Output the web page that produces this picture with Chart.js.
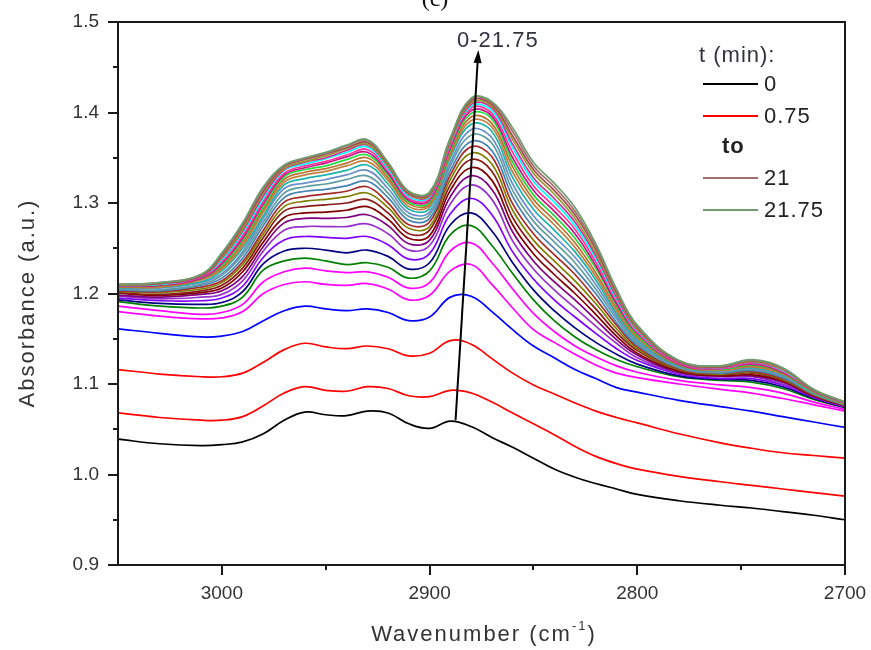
<!DOCTYPE html>
<html>
<head>
<meta charset="utf-8">
<title>Absorbance vs wavenumber</title>
<script src="https://cdn.jsdelivr.net/npm/chart.js@4.4.1/dist/chart.umd.min.js"></script>
<style>
  html, body { margin: 0; padding: 0; background: #fff; }
  #wrap { width: 871px; height: 650px; }
</style>
</head>
<body>
<div id="wrap"><canvas id="spectra" width="871" height="650"></canvas></div>
<script>
// Spectra. Shared x values (cm-1), one array per time step.
const wavenumbers = [3050, 3030, 3010, 3000, 2990, 2980, 2970, 2960, 2950, 2940, 2930, 2920, 2910, 2900,
  2890, 2880, 2870, 2860, 2850, 2840, 2830, 2820, 2810, 2800, 2780, 2760, 2745, 2730, 2715, 2700];

const times = [0, 0.75, 1.5, 2.25, 3, 3.75, 4.5, 5.25, 6, 6.75, 7.5, 8.25, 9, 9.75, 10.5, 11.25,
  12, 12.75, 13.5, 14.25, 15, 15.75, 16.5, 17.25, 18, 18.75, 19.5, 20.25, 21, 21.75];

const colors = ["#000000", "#ff0000", "#ff0000", "#0000ff", "#ff00ff", "#ff00ff", "#008000", "#000080",
  "#8000ff", "#9932cc", "#800080", "#800000", "#8b1a1a", "#808000", "#a52a2a", "#4682b4", "#5f9ea0",
  "#6a8fc8", "#20b2aa", "#c08040", "#b87333", "#22dd44", "#c71585", "#ff3399", "#00ffff", "#cc3399",
  "#999933", "#a05050", "#a07070", "#6e9e6e"];

const s00 = [1.039, 1.034, 1.032, 1.033, 1.036, 1.045, 1.060, 1.069, 1.066, 1.065, 1.070, 1.068, 1.056, 1.051, 1.059, 1.053, 1.041, 1.030, 1.018, 1.006, 0.997, 0.990, 0.984, 0.978, 0.971, 0.966, 0.963, 0.959, 0.955, 0.950];
const s01 = [1.068, 1.063, 1.060, 1.060, 1.064, 1.076, 1.090, 1.097, 1.093, 1.092, 1.097, 1.095, 1.087, 1.086, 1.093, 1.090, 1.080, 1.068, 1.056, 1.044, 1.031, 1.020, 1.012, 1.006, 0.998, 0.992, 0.988, 0.984, 0.980, 0.976];
const s02 = [1.116, 1.111, 1.108, 1.108, 1.112, 1.124, 1.138, 1.145, 1.141, 1.139, 1.142, 1.139, 1.131, 1.134, 1.148, 1.144, 1.128, 1.112, 1.099, 1.089, 1.079, 1.070, 1.063, 1.057, 1.045, 1.035, 1.029, 1.024, 1.021, 1.018];
const s03 = [1.161, 1.156, 1.152, 1.153, 1.158, 1.170, 1.181, 1.186, 1.183, 1.181, 1.183, 1.179, 1.170, 1.174, 1.196, 1.197, 1.180, 1.160, 1.142, 1.129, 1.116, 1.106, 1.096, 1.091, 1.082, 1.075, 1.070, 1.064, 1.058, 1.052];
const s04 = [1.180, 1.175, 1.172, 1.173, 1.180, 1.200, 1.210, 1.213, 1.210, 1.209, 1.211, 1.205, 1.193, 1.198, 1.225, 1.232, 1.210, 1.184, 1.160, 1.146, 1.133, 1.121, 1.112, 1.107, 1.100, 1.094, 1.090, 1.084, 1.077, 1.070];
const s05 = [1.186, 1.181, 1.177, 1.179, 1.188, 1.213, 1.224, 1.228, 1.225, 1.223, 1.224, 1.218, 1.206, 1.212, 1.247, 1.256, 1.234, 1.205, 1.178, 1.158, 1.142, 1.130, 1.120, 1.113, 1.104, 1.099, 1.096, 1.090, 1.080, 1.072];
const s06 = [1.191, 1.186, 1.184, 1.186, 1.196, 1.226, 1.236, 1.239, 1.236, 1.232, 1.234, 1.229, 1.217, 1.225, 1.265, 1.275, 1.253, 1.222, 1.193, 1.170, 1.152, 1.138, 1.127, 1.119, 1.108, 1.104, 1.102, 1.095, 1.083, 1.074];
const s07 = [1.193, 1.189, 1.188, 1.190, 1.202, 1.233, 1.247, 1.250, 1.248, 1.245, 1.248, 1.241, 1.227, 1.234, 1.276, 1.289, 1.269, 1.234, 1.204, 1.181, 1.162, 1.146, 1.133, 1.122, 1.109, 1.105, 1.104, 1.097, 1.084, 1.074];
const s08 = [1.195, 1.192, 1.192, 1.195, 1.208, 1.240, 1.259, 1.263, 1.262, 1.261, 1.263, 1.254, 1.238, 1.244, 1.288, 1.305, 1.287, 1.246, 1.216, 1.193, 1.174, 1.156, 1.139, 1.126, 1.111, 1.106, 1.106, 1.099, 1.085, 1.075];
const s09 = [1.197, 1.194, 1.196, 1.199, 1.214, 1.247, 1.270, 1.274, 1.274, 1.274, 1.277, 1.266, 1.248, 1.253, 1.299, 1.320, 1.304, 1.258, 1.227, 1.204, 1.184, 1.164, 1.145, 1.129, 1.112, 1.108, 1.108, 1.100, 1.086, 1.075];
const s10 = [1.198, 1.196, 1.199, 1.203, 1.219, 1.252, 1.278, 1.283, 1.283, 1.284, 1.287, 1.275, 1.255, 1.259, 1.307, 1.330, 1.315, 1.268, 1.236, 1.213, 1.193, 1.171, 1.149, 1.132, 1.113, 1.109, 1.109, 1.102, 1.086, 1.076];
const s11 = [1.200, 1.198, 1.201, 1.206, 1.224, 1.257, 1.284, 1.289, 1.290, 1.292, 1.296, 1.282, 1.261, 1.264, 1.314, 1.339, 1.325, 1.276, 1.244, 1.221, 1.200, 1.177, 1.153, 1.134, 1.114, 1.109, 1.110, 1.103, 1.087, 1.076];
const s12 = [1.201, 1.199, 1.203, 1.209, 1.228, 1.262, 1.291, 1.296, 1.298, 1.300, 1.304, 1.289, 1.266, 1.270, 1.320, 1.348, 1.335, 1.284, 1.252, 1.229, 1.207, 1.183, 1.157, 1.137, 1.115, 1.110, 1.112, 1.104, 1.087, 1.076];
const s13 = [1.202, 1.201, 1.205, 1.212, 1.232, 1.266, 1.296, 1.302, 1.304, 1.307, 1.311, 1.295, 1.272, 1.274, 1.326, 1.355, 1.343, 1.292, 1.259, 1.236, 1.214, 1.189, 1.161, 1.139, 1.116, 1.111, 1.113, 1.105, 1.088, 1.077];
const s14 = [1.203, 1.202, 1.207, 1.214, 1.235, 1.270, 1.301, 1.307, 1.310, 1.313, 1.318, 1.300, 1.276, 1.279, 1.331, 1.362, 1.351, 1.299, 1.266, 1.243, 1.221, 1.194, 1.165, 1.141, 1.117, 1.112, 1.114, 1.106, 1.088, 1.077];
const s15 = [1.204, 1.203, 1.209, 1.217, 1.239, 1.275, 1.306, 1.313, 1.315, 1.319, 1.324, 1.306, 1.281, 1.283, 1.336, 1.368, 1.358, 1.307, 1.273, 1.250, 1.227, 1.200, 1.168, 1.143, 1.118, 1.112, 1.115, 1.107, 1.089, 1.077];
const s16 = [1.205, 1.204, 1.210, 1.220, 1.243, 1.279, 1.311, 1.318, 1.321, 1.326, 1.330, 1.311, 1.285, 1.287, 1.341, 1.375, 1.366, 1.314, 1.280, 1.257, 1.234, 1.205, 1.172, 1.145, 1.118, 1.113, 1.116, 1.108, 1.089, 1.077];
const s17 = [1.205, 1.206, 1.212, 1.222, 1.246, 1.283, 1.316, 1.322, 1.326, 1.331, 1.336, 1.316, 1.289, 1.290, 1.345, 1.381, 1.372, 1.321, 1.286, 1.263, 1.240, 1.210, 1.175, 1.147, 1.119, 1.114, 1.117, 1.109, 1.090, 1.078];
const s18 = [1.206, 1.207, 1.213, 1.225, 1.250, 1.286, 1.320, 1.327, 1.331, 1.336, 1.342, 1.321, 1.293, 1.294, 1.350, 1.387, 1.379, 1.328, 1.293, 1.270, 1.246, 1.215, 1.178, 1.149, 1.120, 1.115, 1.118, 1.110, 1.090, 1.078];
const s19 = [1.207, 1.207, 1.215, 1.227, 1.253, 1.290, 1.323, 1.331, 1.335, 1.341, 1.346, 1.325, 1.296, 1.297, 1.353, 1.391, 1.384, 1.334, 1.299, 1.276, 1.251, 1.219, 1.181, 1.151, 1.121, 1.115, 1.119, 1.111, 1.091, 1.078];
const s20 = [1.207, 1.208, 1.216, 1.229, 1.256, 1.293, 1.326, 1.334, 1.338, 1.344, 1.350, 1.328, 1.299, 1.299, 1.356, 1.395, 1.388, 1.340, 1.304, 1.281, 1.256, 1.223, 1.184, 1.153, 1.121, 1.116, 1.120, 1.112, 1.091, 1.078];
const s21 = [1.208, 1.209, 1.217, 1.231, 1.259, 1.296, 1.329, 1.337, 1.341, 1.348, 1.353, 1.331, 1.301, 1.301, 1.359, 1.399, 1.393, 1.345, 1.309, 1.286, 1.261, 1.228, 1.187, 1.154, 1.122, 1.116, 1.121, 1.113, 1.091, 1.079];
const s22 = [1.208, 1.209, 1.217, 1.233, 1.261, 1.299, 1.331, 1.339, 1.344, 1.351, 1.356, 1.333, 1.303, 1.303, 1.361, 1.402, 1.396, 1.350, 1.314, 1.291, 1.266, 1.231, 1.189, 1.156, 1.122, 1.117, 1.122, 1.113, 1.092, 1.079];
const s23 = [1.209, 1.210, 1.218, 1.235, 1.264, 1.302, 1.333, 1.341, 1.346, 1.353, 1.359, 1.336, 1.305, 1.305, 1.363, 1.405, 1.399, 1.356, 1.319, 1.296, 1.271, 1.235, 1.192, 1.157, 1.123, 1.117, 1.123, 1.114, 1.092, 1.079];
const s24 = [1.209, 1.210, 1.219, 1.237, 1.267, 1.305, 1.336, 1.343, 1.349, 1.356, 1.362, 1.338, 1.307, 1.307, 1.366, 1.407, 1.402, 1.361, 1.324, 1.301, 1.275, 1.239, 1.194, 1.159, 1.124, 1.118, 1.124, 1.115, 1.093, 1.079];
const s25 = [1.209, 1.211, 1.219, 1.239, 1.269, 1.308, 1.337, 1.345, 1.350, 1.358, 1.364, 1.340, 1.309, 1.308, 1.367, 1.409, 1.405, 1.365, 1.328, 1.305, 1.279, 1.242, 1.196, 1.160, 1.124, 1.118, 1.124, 1.116, 1.093, 1.079];
const s26 = [1.209, 1.211, 1.220, 1.240, 1.271, 1.311, 1.338, 1.346, 1.352, 1.360, 1.365, 1.341, 1.310, 1.309, 1.368, 1.411, 1.407, 1.370, 1.333, 1.310, 1.283, 1.245, 1.199, 1.161, 1.125, 1.119, 1.125, 1.116, 1.093, 1.080];
const s27 = [1.210, 1.211, 1.220, 1.242, 1.274, 1.313, 1.340, 1.348, 1.354, 1.361, 1.367, 1.343, 1.311, 1.310, 1.370, 1.413, 1.409, 1.374, 1.337, 1.314, 1.287, 1.249, 1.201, 1.163, 1.125, 1.119, 1.126, 1.117, 1.093, 1.080];
const s28 = [1.210, 1.212, 1.221, 1.244, 1.276, 1.316, 1.341, 1.349, 1.355, 1.363, 1.369, 1.344, 1.312, 1.311, 1.371, 1.415, 1.411, 1.379, 1.341, 1.318, 1.291, 1.252, 1.203, 1.164, 1.126, 1.120, 1.126, 1.117, 1.094, 1.080];
const s29 = [1.210, 1.212, 1.221, 1.245, 1.278, 1.318, 1.342, 1.350, 1.356, 1.364, 1.370, 1.345, 1.313, 1.312, 1.372, 1.416, 1.412, 1.383, 1.345, 1.322, 1.295, 1.255, 1.205, 1.165, 1.126, 1.120, 1.127, 1.118, 1.094, 1.080];

const spectra = [s00, s01, s02, s03, s04, s05, s06, s07, s08, s09, s10, s11, s12, s13, s14,
  s15, s16, s17, s18, s19, s20, s21, s22, s23, s24, s25, s26, s27, s28, s29];

// axis ranges + arrow (wavenumber, absorbance) + which times go in the legend
const X_MIN = 2700, X_MAX = 3050;
const Y_MIN = 0.9, Y_MAX = 1.5;
const arrowFrom = [2887.5, 1.060];
const arrowTo = [2876.5, 1.469];
const arrowLabel = "0-21.75";
const legendRows = [0, 1, "to", 28, 29];

const SANS = '"Liberation Sans", Arial, sans-serif';

function seg(ctx, x1, y1, x2, y2) {
  ctx.beginPath(); ctx.moveTo(x1, y1); ctx.lineTo(x2, y2); ctx.stroke();
}

// frame, tick marks, axis titles, legend, arrow – things Chart.js can't do out of the box
const decor = {
  id: "decor",
  afterDraw(chart) {
    const { ctx, chartArea: a, scales: { x, y } } = chart;
    ctx.save();
    ctx.strokeStyle = "#1a1a1a";
    ctx.lineWidth = 2;
    ctx.strokeRect(a.left, a.top, a.right - a.left, a.bottom - a.top);

    x.ticks.forEach((t) => {
      if (t.value >= X_MAX) return;
      const px = Math.round(x.getPixelForValue(t.value));
      seg(ctx, px, a.bottom, px, a.bottom + (t.value % 100 === 0 ? 10 : 5));
    });
    y.ticks.forEach((t) => {
      const py = Math.round(y.getPixelForValue(t.value));
      const major = Math.round(t.value * 100) % 10 === 0;
      seg(ctx, a.left - (major ? 10 : 5), py, a.left, py);
    });

    // axis titles
    ctx.fillStyle = "#333";
    ctx.letterSpacing = "2px";
    ctx.font = `22px ${SANS}`;
    ctx.textBaseline = "alphabetic";
    ctx.save();
    ctx.translate(34, 303);
    ctx.rotate(-Math.PI / 2);
    ctx.textAlign = "center";
    ctx.fillText("Absorbance (a.u.)", 0, 0);
    ctx.restore();

    const t1 = "Wavenumber (cm", sup = "-1", t2 = ")";
    ctx.font = `22px ${SANS}`;
    const w1 = ctx.measureText(t1).width, w2 = ctx.measureText(t2).width;
    ctx.font = `13px ${SANS}`;
    const ws = ctx.measureText(sup).width;
    let tx = 484 - (w1 + ws + w2) / 2;
    ctx.textAlign = "left";
    ctx.font = `22px ${SANS}`;
    ctx.fillText(t1, tx, 641);
    ctx.font = `13px ${SANS}`;
    ctx.fillText(sup, tx + w1, 630);
    ctx.font = `22px ${SANS}`;
    ctx.fillText(t2, tx + w1 + ws, 641);

    // panel label, mostly cut off at the top edge
    ctx.letterSpacing = "0px";
    ctx.font = `24px "Liberation Serif", serif`;
    ctx.textAlign = "center";
    ctx.fillStyle = "#111";
    ctx.fillText("(c)", 435, 6);

    // legend
    ctx.letterSpacing = "1px";
    ctx.font = `22px ${SANS}`;
    ctx.textAlign = "left";
    ctx.textBaseline = "middle";
    ctx.fillStyle = "#333340";
    ctx.fillText("t (min):", 699, 56);
    const rowY = [84, 116, 147, 178, 210];
    legendRows.forEach((r, i) => {
      if (r === "to") {
        ctx.font = `bold 22px ${SANS}`;
        ctx.fillStyle = "#222";
        ctx.fillText("to", 722, rowY[i]);
        ctx.font = `22px ${SANS}`;
        return;
      }
      ctx.strokeStyle = colors[r];
      ctx.lineWidth = 2;
      seg(ctx, 703, rowY[i], 758, rowY[i]);
      ctx.fillStyle = "#222";
      ctx.fillText(String(times[r]), 764, rowY[i] + 1);
    });

    // arrow across the peaks
    const x0 = x.getPixelForValue(arrowFrom[0]), y0 = y.getPixelForValue(arrowFrom[1]);
    const x1 = x.getPixelForValue(arrowTo[0]), y1 = y.getPixelForValue(arrowTo[1]);
    const ang = Math.atan2(y1 - y0, x1 - x0), head = 13, hw = 4;
    const bx = x1 - head * Math.cos(ang), by = y1 - head * Math.sin(ang);
    ctx.strokeStyle = "#000";
    ctx.fillStyle = "#000";
    ctx.lineWidth = 2;
    seg(ctx, x0, y0, bx, by);
    ctx.beginPath();
    ctx.moveTo(x1, y1);
    ctx.lineTo(bx + hw * Math.sin(ang), by - hw * Math.cos(ang));
    ctx.lineTo(bx - hw * Math.sin(ang), by + hw * Math.cos(ang));
    ctx.closePath();
    ctx.fill();
    ctx.fillStyle = "#333340";
    ctx.textBaseline = "alphabetic";
    ctx.textAlign = "left";
    ctx.fillText(arrowLabel, 457, 47);
    ctx.restore();
  },
};

const datasets = spectra.map((ys, i) => ({
  label: `${times[i]}`,
  data: ys.map((v, j) => ({ x: wavenumbers[j], y: v })),
  borderColor: colors[i],
  borderWidth: 1.7,
  pointRadius: 0,
  tension: 0.4,
  order: spectra.length - i,
}));

const tickFont = { family: SANS, size: 19 };

new Chart(document.getElementById("spectra"), {
  type: "line",
  data: { datasets },
  options: {
    responsive: false,
    animation: false,
    devicePixelRatio: 1,
    layout: { padding: { top: 22, right: 26, left: 0, bottom: 0 } },
    plugins: { legend: { display: false }, tooltip: { enabled: false } },
    scales: {
      x: {
        type: "linear", reverse: true, min: X_MIN, max: X_MAX,
        grid: { display: false, drawTicks: false }, border: { display: false },
        ticks: {
          stepSize: 50, autoSkip: false, maxRotation: 0, padding: 17, color: "#333", font: tickFont,
          callback: (v) => (v % 100 === 0 && v < X_MAX ? String(v) : ""),
        },
        // fixed box so the plot area lands where it is in the figure
        afterFit: (s) => { s.height = 85; s.paddingLeft = 0; s.paddingRight = 0; },
      },
      y: {
        type: "linear", min: Y_MIN, max: Y_MAX,
        grid: { display: false, drawTicks: false }, border: { display: false },
        ticks: {
          stepSize: 0.05, autoSkip: false, padding: 19, color: "#333", font: tickFont,
          callback: (v) => {
            const r = Math.round(v * 100);
            return r % 10 === 0 ? (r / 100).toFixed(1) : "";
          },
        },
        afterFit: (s) => { s.width = 118; s.paddingTop = 0; s.paddingBottom = 0; },
      },
    },
  },
  plugins: [decor],
});
</script>
</body>
</html>
